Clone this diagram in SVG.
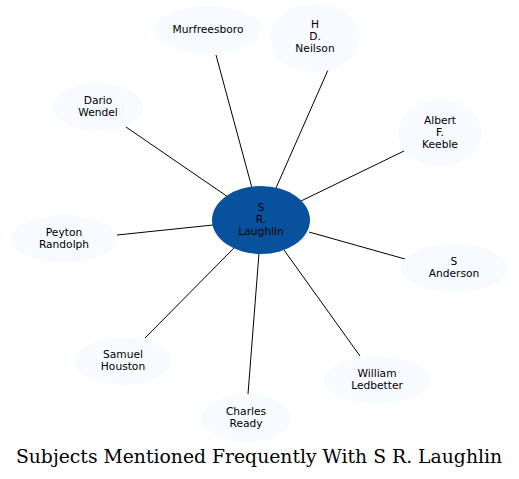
<svg xmlns="http://www.w3.org/2000/svg" width="519" height="479" viewBox="0 0 519 479">
<style>
.n ellipse{fill:#f7fbff;stroke:none}
.c ellipse{fill:#08519c;stroke:none}
text{font-family:"DejaVu Sans",sans-serif;font-size:10.67px;fill:#000;text-anchor:middle}
.t{font-family:"DejaVu Serif",serif;font-size:18.8px}
#edges line{stroke:#000;stroke-width:1}
</style>
<rect width="519" height="479" fill="#fff"/>
<g id="edges">
<line x1="216" y1="55" x2="252" y2="188"/>
<line x1="328" y1="70" x2="276" y2="188"/>
<line x1="404" y1="151" x2="301" y2="201"/>
<line x1="126" y1="127" x2="228" y2="197"/>
<line x1="117" y1="235" x2="213" y2="225"/>
<line x1="405" y1="259" x2="309" y2="232"/>
<line x1="145" y1="338" x2="234" y2="248"/>
<line x1="360" y1="356" x2="284" y2="250"/>
<line x1="248" y1="394" x2="259" y2="253"/>
</g>
<g id="laughlin" class="c"><ellipse cx="261" cy="220" rx="49" ry="34"/><text x="261" y="211">S</text><text x="261" y="223">R.</text><text x="261" y="235">Laughlin</text></g>
<g id="murfreesboro" class="n"><ellipse cx="208" cy="30" rx="54" ry="24"/><text x="208" y="33">Murfreesboro</text></g>
<g id="neilson" class="n"><ellipse cx="315" cy="38" rx="45" ry="34"/><text x="315" y="28">H</text><text x="315" y="40">D.</text><text x="315" y="52">Neilson</text></g>
<g id="keeble" class="n"><ellipse cx="440" cy="133" rx="42" ry="34"/><text x="440" y="124">Albert</text><text x="440" y="136">F.</text><text x="440" y="148">Keeble</text></g>
<g id="wendel" class="n"><ellipse cx="98" cy="107" rx="45" ry="24"/><text x="98" y="104">Dario</text><text x="98" y="116">Wendel</text></g>
<g id="randolph" class="n"><ellipse cx="64" cy="239" rx="53" ry="24"/><text x="64" y="236">Peyton</text><text x="64" y="248">Randolph</text></g>
<g id="anderson" class="n"><ellipse cx="454" cy="268" rx="53" ry="24"/><text x="454" y="265">S</text><text x="454" y="277">Anderson</text></g>
<g id="houston" class="n"><ellipse cx="123" cy="361" rx="48" ry="24"/><text x="123" y="358">Samuel</text><text x="123" y="370">Houston</text></g>
<g id="ledbetter" class="n"><ellipse cx="377" cy="380" rx="53" ry="24"/><text x="377" y="377">William</text><text x="377" y="389">Ledbetter</text></g>
<g id="ready" class="n"><ellipse cx="246" cy="418" rx="45" ry="24"/><text x="246" y="415">Charles</text><text x="246" y="427">Ready</text></g>
<text class="t" x="259" y="463">Subjects Mentioned Frequently With S R. Laughlin</text>
</svg>
